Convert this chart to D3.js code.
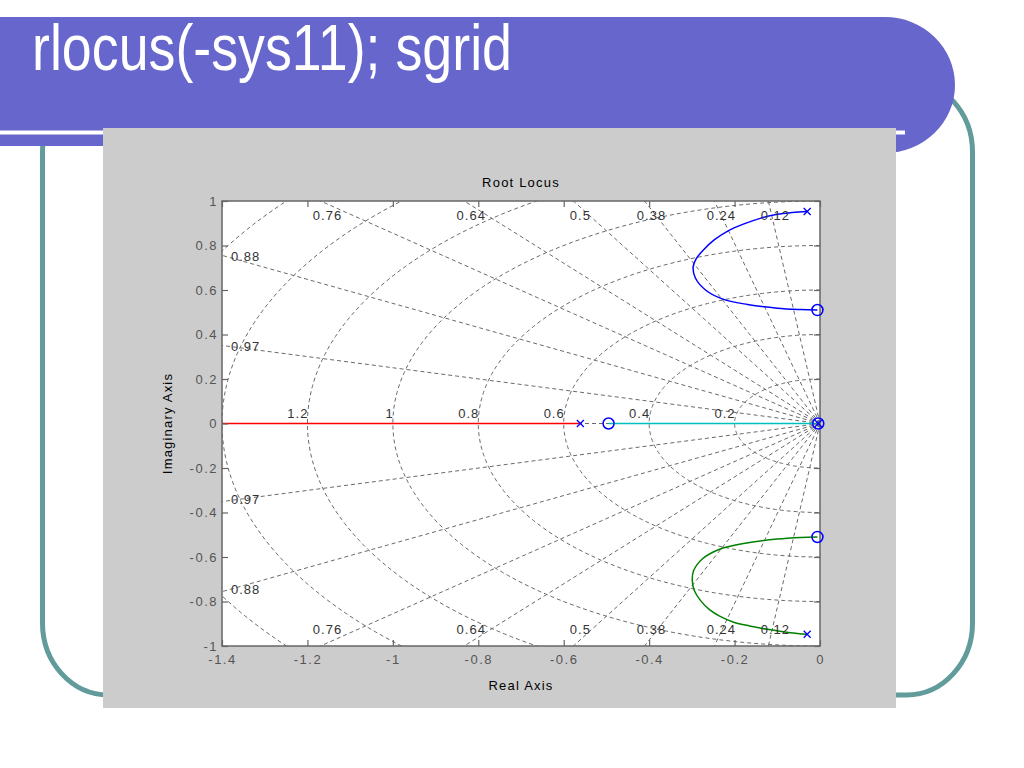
<!DOCTYPE html>
<html><head><meta charset="utf-8">
<script src="https://cdn.jsdelivr.net/npm/d3@7"></script>
<style>body{margin:0;background:#fff}svg{display:block}</style>
</head><body>
<svg id="c" width="1024" height="768"></svg>
<script>
// ---------- data ----------
const slideTitle = "rlocus(-sys11); sgrid";
const chartTitle = "Root Locus";
const xAxisLabel = "Real Axis";
const yAxisLabel = "Imaginary Axis";
const xTicks = [-1.4, -1.2, -1, -0.8, -0.6, -0.4, -0.2, 0];
const xTickLabels = ["-1.4", "-1.2", "-1", "-0.8", "-0.6", "-0.4", "-0.2", "0"];
const yTicks = [1, 0.8, 0.6, 0.4, 0.2, 0, -0.2, -0.4, -0.6, -0.8, -1];
const yTickLabels = ["1", "0.8", "0.6", "0.4", "0.2", "0", "-0.2", "-0.4", "-0.6", "-0.8", "-1"];
const zetaValues = [0.12, 0.24, 0.38, 0.5, 0.64, 0.76, 0.88, 0.97, 1];
const zetaLabels = ["0.12", "0.24", "0.38", "0.5", "0.64", "0.76", "0.88", "0.97", ""];
const wnValues = [0.2, 0.4, 0.6, 0.8, 1, 1.2, 1.4, 1.6, 1.8];
const wnLabels = ["0.2", "0.4", "0.6", "0.8", "1", "1.2", "", "", ""];
// locus branches
const redBranchX = [-1.6, -0.561];
const redBranchY = [0, 0];
const cyanBranchX = [-0.495, -0.004];
const cyanBranchY = [0, 0];
const blueBranchX = [-0.030, -0.065, -0.100, -0.140, -0.178, -0.215, -0.247, -0.273, -0.290, -0.297, -0.292, -0.268, -0.229, -0.170, -0.100, -0.045, -0.006];
const blueBranchY = [0.953, 0.948, 0.940, 0.922, 0.897, 0.866, 0.826, 0.780, 0.740, 0.704, 0.655, 0.600, 0.560, 0.535, 0.518, 0.512, 0.510];
const greenBranchX = [-0.030, -0.070, -0.123, -0.165, -0.202, -0.235, -0.258, -0.280, -0.294, -0.299, -0.296, -0.275, -0.235, -0.172, -0.100, -0.045, -0.006];
const greenBranchY = [-0.947, -0.940, -0.925, -0.910, -0.893, -0.866, -0.838, -0.795, -0.752, -0.705, -0.662, -0.608, -0.565, -0.537, -0.519, -0.512, -0.510];
const polesX = [-0.561, -0.030, -0.030, -0.004];
const polesY = [0, 0.953, -0.947, 0];
const zerosX = [-0.495, -0.006, -0.006, -0.004];
const zerosY = [0, 0.510, -0.510, 0];

// ---------- layout ----------
const svg = d3.select("#c");
const W = 1024, H = 768;
const L = 222, R = 820, T = 201, B = 646;
const x = d3.scaleLinear().domain([-1.4, 0]).range([L, R]);
const y = d3.scaleLinear().domain([-1, 1]).range([B, T]);
const font = "'Liberation Sans', Arial, Helvetica, sans-serif";

svg.append("rect").attr("width", W).attr("height", H).attr("fill", "#fff");

// slide frame (teal rounded rect)
svg.append("rect").attr("x", 42.5).attr("y", 80).attr("width", 930).attr("height", 615)
  .attr("rx", 66).attr("ry", 72).attr("fill", "none").attr("stroke", "#629b9b").attr("stroke-width", 5);

// banner
svg.append("path")
  .attr("d", "M0,17 H885 A70,68 0 0 1 885,153 L860,153 L860,146 H0 Z")
  .attr("fill", "#6666cc");
svg.append("rect").attr("x", 0).attr("y", 130.5).attr("width", 905).attr("height", 4).attr("fill", "#fff");
svg.append("text").attr("x", 32).attr("y", 70)
  .attr("font-family", "'Liberation Sans Narrow', 'Liberation Sans', Arial, sans-serif")
  .attr("font-size", 64).attr("fill", "#fff")
  .attr("textLength", 480).attr("lengthAdjust", "spacingAndGlyphs")
  .text(slideTitle);

// gray figure panel
svg.append("rect").attr("x", 103).attr("y", 128).attr("width", 793).attr("height", 580).attr("fill", "#cccccc");

// plot background
svg.append("rect").attr("x", L).attr("y", T).attr("width", R - L).attr("height", B - T).attr("fill", "#fff");

svg.append("clipPath").attr("id", "clip").append("rect")
  .attr("x", L).attr("y", T).attr("width", R - L).attr("height", B - T);

const plot = svg.append("g").attr("clip-path", "url(#clip)");
const gridStyle = s => s.attr("fill", "none").attr("stroke", "#6a6a6a").attr("stroke-width", 1).attr("stroke-dasharray", "4,3");

// zeta rays
const ext = 4;
zetaValues.forEach(z => {
  const s = Math.sqrt(1 - z * z);
  [1, -1].forEach(sg => {
    plot.append("line")
      .attr("x1", x(0)).attr("y1", y(0))
      .attr("x2", x(-z * ext)).attr("y2", y(sg * s * ext))
      .call(gridStyle);
  });
});
// wn semicircles
const line = d3.line().x(d => x(d[0])).y(d => y(d[1]));
wnValues.forEach(w => {
  const pts = d3.range(0, 181).map(i => {
    const a = Math.PI / 2 + i * Math.PI / 180;
    return [w * Math.cos(a), w * Math.sin(a)];
  });
  plot.append("path").attr("d", line(pts)).call(gridStyle);
});

// grid labels
const labG = svg.append("g").attr("font-family", font).attr("font-size", 13)
  .attr("fill", "#333").attr("letter-spacing", "1px");
zetaValues.forEach((z, i) => {
  const lab = zetaLabels[i];
  if (!lab) return;
  const s = Math.sqrt(1 - z * z);
  const xTop = -z / s; // real part where ray meets |Im| = 1
  if (xTop >= -1.4) {
    labG.append("text").attr("x", x(xTop) + 7).attr("y", T + 14).attr("dy", "0.35em")
      .attr("text-anchor", "middle").text(lab);
    labG.append("text").attr("x", x(xTop) + 7).attr("y", B - 17).attr("dy", "0.35em")
      .attr("text-anchor", "middle").text(lab);
  } else {
    const yl = 1.4 * s / z;
    labG.append("text").attr("x", L + 9).attr("y", y(yl) + 1).attr("dy", "0.35em").text(lab);
    labG.append("text").attr("x", L + 9).attr("y", y(-yl) - 2).attr("dy", "0.35em").text(lab);
  }
});
wnValues.forEach((w, i) => {
  const lab = wnLabels[i];
  if (!lab) return;
  labG.append("text").attr("x", x(-w) + 1).attr("y", y(0) - 10).attr("dy", "0.35em")
    .attr("text-anchor", "end").text(lab);
});

// locus branches
const branch = (xs, ys, color) => {
  const pts = xs.map((v, i) => [v, ys[i]]);
  plot.append("path").attr("d", d3.line().x(d => x(d[0])).y(d => y(d[1])).curve(d3.curveCatmullRom)(pts))
    .attr("fill", "none").attr("stroke", color).attr("stroke-width", 1.5);
};
branch(redBranchX, redBranchY, "#ff0000");
branch(cyanBranchX, cyanBranchY, "#00bfbf");
branch(blueBranchX, blueBranchY, "#0000ff");
branch(greenBranchX, greenBranchY, "#008000");

// axes box and ticks
svg.append("rect").attr("x", L).attr("y", T).attr("width", R - L).attr("height", B - T)
  .attr("fill", "none").attr("stroke", "#666").attr("stroke-width", 1.5);

const tickFmtX = d => xTickLabels[xTicks.indexOf(d)];
const tickFmtY = d => yTickLabels[yTicks.indexOf(d)];
const styleAxis = g => {
  g.select(".domain").remove();
  g.selectAll(".tick line").attr("stroke", "#666").attr("stroke-width", 1.2);
  g.selectAll(".tick text").attr("fill", "#555").attr("font-size", 13)
    .attr("font-family", font).attr("letter-spacing", "1.5px");
};
svg.append("g").attr("transform", `translate(0,${B})`)
  .call(d3.axisBottom(x).tickValues(xTicks).tickFormat(tickFmtX).tickSizeInner(-6).tickSizeOuter(0).tickPadding(9))
  .call(styleAxis);
svg.append("g").attr("transform", `translate(0,${T})`)
  .call(d3.axisTop(x).tickValues(xTicks).tickFormat("").tickSizeInner(-6).tickSizeOuter(0))
  .call(styleAxis);
svg.append("g").attr("transform", `translate(${L},0)`)
  .call(d3.axisLeft(y).tickValues(yTicks).tickFormat(tickFmtY).tickSizeInner(-6).tickSizeOuter(0).tickPadding(4))
  .call(styleAxis);
svg.append("g").attr("transform", `translate(${R},0)`)
  .call(d3.axisRight(y).tickValues(yTicks).tickFormat("").tickSizeInner(-6).tickSizeOuter(0))
  .call(styleAxis);

// markers
const mk = svg.append("g").attr("fill", "none").attr("stroke", "#0000ff").attr("stroke-width", 1.3);
polesX.forEach((px, i) => {
  const cx = x(px), cy = y(polesY[i]), s = 3.5;
  mk.append("path").attr("d", `M${cx - s},${cy - s}L${cx + s},${cy + s}M${cx - s},${cy + s}L${cx + s},${cy - s}`);
});
zerosX.forEach((zx, i) => {
  mk.append("circle").attr("cx", x(zx)).attr("cy", y(zerosY[i])).attr("r", 5.5).attr("stroke-width", 1.5);
});

// titles
const tG = svg.append("g").attr("font-family", font).attr("font-size", 13).attr("fill", "#000").attr("letter-spacing", "1.2px");
tG.append("text").attr("x", (L + R) / 2).attr("y", 187).attr("text-anchor", "middle").text(chartTitle);
tG.append("text").attr("x", (L + R) / 2).attr("y", 690).attr("text-anchor", "middle").text(xAxisLabel);
tG.append("text").attr("transform", `translate(172,${(T + B) / 2}) rotate(-90)`).attr("text-anchor", "middle").text(yAxisLabel);
</script>
</body></html>
